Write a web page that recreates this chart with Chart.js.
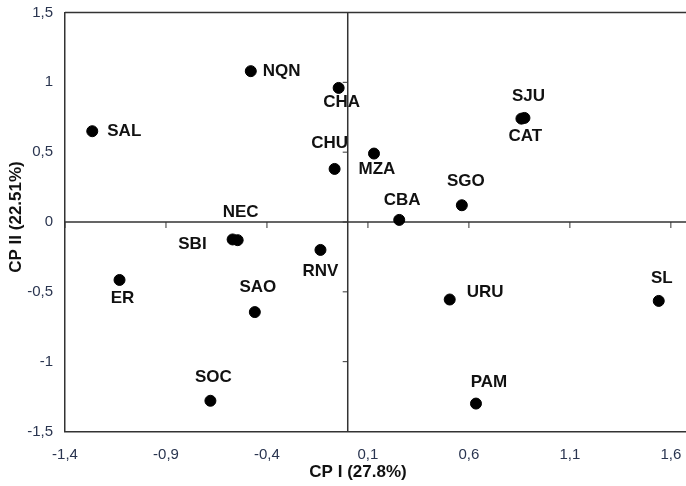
<!DOCTYPE html>
<html>
<head>
<meta charset="utf-8">
<script src="https://cdn.jsdelivr.net/npm/chart.js@4/dist/chart.umd.min.js"></script>
<style>
  body { margin: 0; background: #fff; }
  #wrap { width: 686px; height: 486px; }
</style>
</head>
<body>
<div id="wrap"><canvas id="pca" width="686" height="486"></canvas></div>
<script>
// provinces and their scores on the two principal components
const names = ['NQN', 'SAL', 'CHA', 'CHU', 'NEC', 'SBI', 'ER', 'SAO', 'RNV', 'SOC',
               'MZA', 'SJU', 'CAT', 'SGO', 'CBA', 'URU', 'SL', 'PAM'];
const cp1 = [-0.48, -1.265, -0.045, -0.065, -0.545, -0.57, -1.13, -0.46, -0.135, -0.68,
             0.13, 0.875, 0.86, 0.565, 0.255, 0.505, 1.54, 0.635];
const cp2 = [1.08, 0.65, 0.96, 0.38, -0.13, -0.125, -0.415, -0.645, -0.2, -1.28,
             0.49, 0.745, 0.74, 0.12, 0.015, -0.555, -0.565, -1.3];

const xTicks = [-1.4, -0.9, -0.4, 0.1, 0.6, 1.1, 1.6];
const yTicks = [-1.5, -1, -0.5, 0, 0.5, 1, 1.5];
const xTitle = 'CP I (27.8%)';
const yTitle = 'CP II (22.51%)';

// where each name sits relative to its dot
const labelPlace = {
  NQN: [12, 0, 'left'], SAL: [15, 0, 'left'], CHA: [3, 14, 'center'],
  CHU: [-5, -26, 'center'], NEC: [3, -28, 'center'], SBI: [-26, 5, 'right'],
  ER: [3, 18, 'center'], SAO: [3, -25, 'center'], RNV: [0, 21, 'center'],
  SOC: [3, -23, 'center'], MZA: [3, 16, 'center'], SJU: [4, -22, 'center'],
  CAT: [4, 18, 'center'], SGO: [4, -24, 'center'], CBA: [3, -20, 'center'],
  URU: [17, -7, 'left'], SL: [3, -23, 'center'], PAM: [13, -21, 'center']
};

const points = names.map((n, i) => ({ x: cp1[i], y: cp2[i], name: n }));
const fmt = v => String(Math.round(v * 10) / 10).replace('.', ',');
const lineColor = '#333';
const tickColor = '#2a3550';

const noPad = s => {
  s.paddingTop = 0; s.paddingBottom = 0; s.paddingLeft = 0; s.paddingRight = 0;
};

const pcaDecor = {
  id: 'pcaDecor',
  beforeDatasetsDraw(chart) {
    const ctx = chart.ctx;
    const area = chart.chartArea;
    const sx = chart.scales.x, sy = chart.scales.y;
    const x0 = sx.getPixelForValue(0), y0 = sy.getPixelForValue(0);
    ctx.save();
    ctx.strokeStyle = lineColor;
    ctx.lineWidth = 1.5;
    ctx.beginPath();
    // top frame
    ctx.moveTo(area.left, area.top);
    ctx.lineTo(area.right, area.top);
    // zero axes
    ctx.moveTo(x0, area.top);
    ctx.lineTo(x0, area.bottom);
    ctx.moveTo(area.left, y0);
    ctx.lineTo(area.right, y0);
    ctx.stroke();
    ctx.lineWidth = 1;
    ctx.beginPath();
    xTicks.forEach(t => {
      const px = sx.getPixelForValue(t);
      ctx.moveTo(px, y0);
      ctx.lineTo(px, y0 + 6);
    });
    yTicks.forEach(t => {
      const py = sy.getPixelForValue(t);
      ctx.moveTo(x0, py);
      ctx.lineTo(x0 - 5, py);
    });
    ctx.stroke();
    ctx.restore();
  },
  afterDatasetsDraw(chart) {
    const ctx = chart.ctx;
    const meta = chart.getDatasetMeta(0);
    ctx.save();
    ctx.font = 'bold 17px "Liberation Sans", Arial, sans-serif';
    ctx.fillStyle = '#111';
    ctx.textBaseline = 'middle';
    meta.data.forEach((el, i) => {
      const p = labelPlace[names[i]];
      ctx.textAlign = p[2];
      ctx.fillText(names[i], el.x + p[0], el.y + p[1]);
    });
    // axis titles
    ctx.textAlign = 'center';
    ctx.fillText(xTitle, 358, 472);
    ctx.translate(16, 217);
    ctx.rotate(-Math.PI / 2);
    ctx.fillText(yTitle, 0, 0);
    ctx.restore();
  }
};

new Chart(document.getElementById('pca'), {
  type: 'scatter',
  data: {
    datasets: [{
      data: points,
      backgroundColor: '#000',
      borderColor: '#000',
      pointRadius: 5.5,
      pointHoverRadius: 5.5
    }]
  },
  options: {
    responsive: false,
    animation: false,
    layout: { autoPadding: false, padding: { top: 12.5, right: 0, left: 0, bottom: 0 } },
    plugins: { legend: { display: false }, tooltip: { enabled: false } },
    scales: {
      x: {
        type: 'linear',
        min: -1.4,
        max: 1.675,
        afterFit: s => { s.height = 54.5; noPad(s); },
        afterBuildTicks: s => { s.ticks = xTicks.map(v => ({ value: v })); },
        grid: { display: false, drawTicks: false },
        border: { display: true, color: lineColor, width: 1.5 },
        ticks: {
          padding: 14,
          color: tickColor,
          font: { family: '"Liberation Sans", Arial, sans-serif', size: 15 },
          callback: v => fmt(v),
          maxRotation: 0
        }
      },
      y: {
        type: 'linear',
        min: -1.5,
        max: 1.5,
        afterFit: s => { s.width = 65; noPad(s); },
        afterBuildTicks: s => { s.ticks = yTicks.map(v => ({ value: v })); },
        grid: { display: false, drawTicks: false },
        border: { display: true, color: lineColor, width: 1.5 },
        ticks: {
          padding: 12,
          color: tickColor,
          font: { family: '"Liberation Sans", Arial, sans-serif', size: 15 },
          callback: v => fmt(v)
        }
      }
    }
  },
  plugins: [pcaDecor]
});
</script>
</body>
</html>
